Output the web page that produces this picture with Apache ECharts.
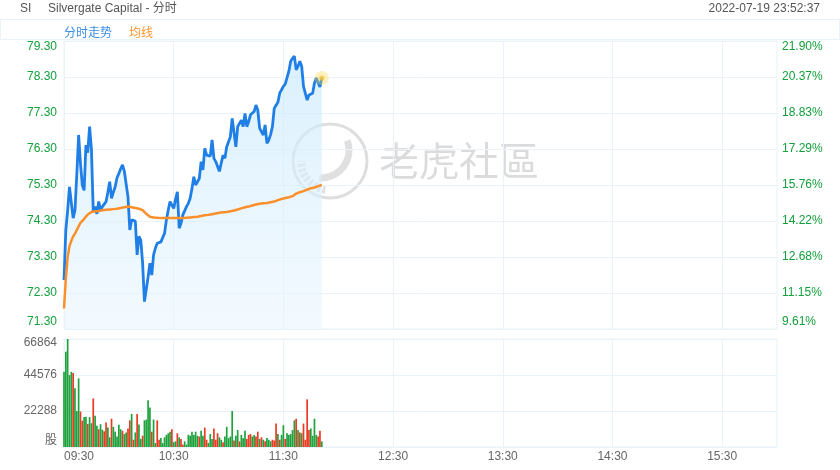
<!DOCTYPE html>
<html>
<head>
<meta charset="utf-8">
<style>
  html, body { margin: 0; padding: 0; background: #fff; }
  #chart { width: 840px; height: 470px; }
</style>
<script src="https://cdn.jsdelivr.net/npm/echarts@6/dist/echarts.min.js"></script>
</head>
<body>
<div id="chart"></div>
<script>
// 分时价格 (09:30 起每分钟)
var prices = [
  72.66, 74.05, 74.6, 75.25, 75.25, 74.38, 74.6, 75.6, 76.69, 75.9,
  75.3, 75.15, 76.41, 76.2, 76.92, 76.3, 74.56, 74.7, 74.5, 74.84,
  74.6, 74.7, 74.75, 74.84, 75.1, 75.39, 74.93, 75.1, 75.25, 75.5,
  75.62, 75.75, 75.86, 75.68, 75.7, 74.97, 74.05, 74.33, 74.28, 74.3,
  73.36, 73.87, 73.77, 73.13, 72.06, 72.06, 72.75, 73.13, 72.8, 73.36,
  73.55, 73.68, 73.73, 73.72, 73.77, 73.96, 74.33, 74.6, 74.84, 74.88,
  74.65, 74.9, 75.11, 74.1, 74.24, 74.47, 74.42, 74.7, 74.79, 74.93,
  75.2, 75.53, 75.3, 75.35, 75.48, 75.95, 75.72, 76.32, 76.13, 76.09,
  76.1, 76.55, 76.04, 75.95, 75.9, 75.68, 75.68, 76.13, 76.04, 76.36,
  76.5, 76.64, 77.15, 77.1, 76.36, 76.92, 76.97, 77.1, 76.92, 77.29,
  76.92, 77.06, 77.25, 77.29, 77.34, 77.52, 77.38, 76.88, 76.78, 76.69,
  76.97, 76.46, 76.55, 76.7, 76.92, 77.43, 77.38, 77.6, 77.85, 77.9,
  78.04, 78.1, 78.13, 78.46, 78.74, 78.82, 78.88, 78.5, 78.6, 78.74,
  78.6, 78.04, 78.08, 77.66, 77.8, 77.8, 77.85, 78.13, 78.27, 78.22,
  78.02, 78.27
];

// 均线
var avgPrices = [
  71.87, 72.7, 73.3, 73.6, 73.75, 73.87, 73.95, 74.0, 74.15, 74.25,
  74.3, 74.36, 74.42, 74.48, 74.53, 74.55, 74.56, 74.57, 74.58, 74.58,
  74.59, 74.6, 74.6, 74.61, 74.61, 74.62, 74.62, 74.63, 74.64, 74.64,
  74.65, 74.66, 74.67, 74.68, 74.69, 74.7, 74.69, 74.68, 74.67, 74.66,
  74.65, 74.64, 74.62, 74.6, 74.55, 74.5, 74.45, 74.42, 74.41, 74.4,
  74.39, 74.39, 74.38, 74.38, 74.38, 74.38, 74.38, 74.38, 74.38, 74.38,
  74.38, 74.38, 74.38, 74.38, 74.38, 74.38, 74.39, 74.39, 74.39, 74.4,
  74.4, 74.41, 74.41, 74.42, 74.43, 74.44, 74.45, 74.46, 74.47, 74.47,
  74.48, 74.49, 74.5, 74.51, 74.52, 74.53, 74.54, 74.54, 74.55, 74.55,
  74.56, 74.57, 74.58, 74.59, 74.6, 74.62, 74.64, 74.65, 74.66, 74.68,
  74.69, 74.7, 74.71, 74.73, 74.75, 74.76, 74.77, 74.78, 74.79, 74.79,
  74.8, 74.8, 74.81, 74.82, 74.83, 74.84, 74.86, 74.88, 74.9, 74.91,
  74.93, 74.94, 74.95, 74.96, 74.97, 74.99, 75.02, 75.06, 75.08, 75.1,
  75.12, 75.13, 75.15, 75.17, 75.2, 75.21, 75.22, 75.23, 75.25, 75.27,
  75.28, 75.3
];

// 成交量 (股)
var volumes = [
  46600, 59000, 66864, 44500, 46500, 45800, 36300, 22300, 42500, 22000,
  16300, 18500, 18800, 14300, 18500, 14700, 30100, 19300, 13100, 11000,
  14100, 10700, 9700, 15100, 12000, 6000, 17500, 12500, 9500, 6500,
  13800, 11000, 10000, 8000, 9000, 11500, 16500, 20500, 4500, 9000,
  20500, 14000, 5000, 7000, 16500, 17000, 29000, 24500, 9500, 17000,
  2500, 16500, 4500, 5500, 2500, 6000, 7500, 8500, 9500, 11000,
  3000, 3500, 8500, 6000, 5000, 1500, 3500, 1500, 7500, 7000,
  9500, 7500, 9500, 7000, 6500, 10000, 7000, 12000, 4500, 2500,
  8000, 5000, 11500, 4500, 8500, 6000, 4500, 3000, 6500, 12500,
  5500, 6500, 22300, 4000, 7000, 10500, 3500, 7500, 5500, 10000,
  5000, 7500, 8000, 6500, 7500, 6500, 9500, 5000, 6000, 4500,
  3500, 5500, 4500, 3500, 4500, 4000, 14500, 8000, 4500, 7500,
  13500, 5000, 8500, 7500, 8000, 10500, 16500, 17500, 10500, 9000,
  8500, 14500, 4500, 29500, 10500, 11500, 7000, 17500, 7500, 6500,
  10000, 3500
];
// 1 = 绿, 0 = 红
var volumeUp = [
  1, 1, 1, 1, 1, 0, 1, 1, 1, 0,
  0, 1, 1, 0, 1, 1, 0, 1, 1, 0,
  1, 1, 0, 0, 1, 1, 0, 1, 1, 1,
  1, 1, 0, 1, 1, 0, 0, 1, 0, 1,
  0, 1, 1, 0, 1, 1, 1, 1, 0, 1,
  1, 0, 0, 1, 1, 1, 1, 1, 1, 0,
  1, 1, 0, 1, 0, 0, 1, 1, 1, 1,
  1, 1, 1, 1, 0, 1, 1, 0, 0, 1,
  1, 1, 0, 0, 0, 1, 1, 0, 1, 1,
  1, 1, 1, 0, 1, 1, 0, 1, 1, 1,
  0, 0, 0, 1, 1, 0, 0, 1, 0, 1,
  0, 1, 1, 1, 0, 0, 0, 1, 0, 1,
  1, 0, 1, 1, 1, 1, 1, 0, 1, 0,
  1, 0, 0, 0, 0, 1, 1, 1, 1, 0,
  0, 1
];

var priceMin = 71.3;
var priceMax = 79.3;
var pctLabels = ["9.61%", "11.15%", "12.68%", "14.22%", "15.76%", "17.29%", "18.83%", "20.37%", "21.90%"];
var volTicks = [0, 22288, 44576, 66864];
var hourLabels = ["09:30", "10:30", "11:30", "12:30", "13:30", "14:30", "15:30"];

// 09:30 - 16:00 每分钟
var times = [];
for (var m = 9 * 60 + 30; m <= 16 * 60; m++) {
  var hh = Math.floor(m / 60), mm = m % 60;
  times.push((hh < 10 ? "0" : "") + hh + ":" + (mm < 10 ? "0" : "") + mm);
}

var GREEN = "#14a03c";
var RED = "#ea3a22";
var GRID_LINE = "#e9f3f9";
var FONT = '"Liberation Sans", Arial, "Noto Sans CJK SC", sans-serif';

var volData = volumes.map(function (v, i) {
  return {
    value: v,
    itemStyle: { color: volumeUp[i] ? "#1fa23e" : RED }
  };
});

var chart = echarts.init(document.getElementById("chart"));
var last = prices.length - 1;

var option = {
  animation: false,
  textStyle: { fontFamily: FONT },
  legend: {
    left: 54,
    top: 22,
    icon: "none",
    itemWidth: 0,
    itemGap: 12,
    selectedMode: false,
    data: [
      { name: "分时走势", textStyle: { color: "#3a8ee6", fontSize: 12 } },
      { name: "均线", textStyle: { color: "#fb9530", fontSize: 12 } }
    ]
  },
  graphic: [
    {
      type: "rect",
      shape: { x: 0.5, y: 19.5, width: 839, height: 20 },
      style: { fill: "none", stroke: GRID_LINE, lineWidth: 1 },
      z: 1
    },
    {
      type: "text",
      style: { x: 20, y: 9, text: "SI", fill: "#555", font: "12px " + FONT, verticalAlign: "middle" }
    },
    {
      type: "text",
      style: { x: 48, y: 9, text: "Silvergate Capital - 分时", fill: "#555", font: "12px " + FONT, verticalAlign: "middle" }
    },
    {
      type: "text",
      style: { x: 820, y: 9, text: "2022-07-19 23:52:37", fill: "#555", font: "12px " + FONT, align: "right", verticalAlign: "middle" }
    },
    // 水印
    {
      type: "group",
      z: 100,
      children: [
        {
          type: "circle",
          shape: { cx: 330, cy: 161, r: 37 },
          style: { fill: "none", stroke: "rgba(0,0,0,0.13)", lineWidth: 3 }
        },
        {
          type: "arc",
          shape: { cx: 330, cy: 161, r: 29, startAngle: Math.PI * 0.55, endAngle: Math.PI * 1.0 },
          style: { fill: "none", stroke: "rgba(0,0,0,0.12)", lineWidth: 8, lineDash: [3, 2] }
        },
        {
          type: "arc",
          shape: { cx: 321, cy: 150, r: 28, startAngle: -0.35, endAngle: Math.PI * 0.52 },
          style: { fill: "none", stroke: "rgba(0,0,0,0.12)", lineWidth: 7 }
        },
        {
          type: "text",
          style: {
            x: 379, y: 161, text: "老虎社區",
            fill: "rgba(0,0,0,0.14)",
            font: '40px "Noto Sans CJK TC", sans-serif',
            verticalAlign: "middle"
          }
        }
      ]
    }
  ],
  grid: [
    { left: 64, right: 63, top: 41, height: 288, show: true, borderColor: GRID_LINE, borderWidth: 1 },
    { left: 64, right: 63, top: 339, height: 108, show: true, borderColor: GRID_LINE, borderWidth: 1 }
  ],
  xAxis: [
    {
      type: "category",
      gridIndex: 0,
      data: times,
      boundaryGap: false,
      axisLine: { show: false },
      axisTick: { show: false },
      axisLabel: { show: false },
      splitLine: {
        show: true,
        interval: function (i) { return i % 60 === 0; },
        lineStyle: { color: GRID_LINE }
      }
    },
    {
      type: "category",
      gridIndex: 1,
      data: times,
      boundaryGap: false,
      axisLine: { show: false },
      axisTick: { show: false },
      axisLabel: {
        interval: function (i) { return i % 60 === 0; },
        color: "#666",
        fontSize: 12,
        margin: 4,
        formatter: function (v) {
          if (v === hourLabels[0]) return "{first|" + v + "}";
          return v;
        },
        rich: { first: { padding: [0, 0, 0, 30], color: "#666", fontSize: 12 } }
      },
      splitLine: {
        show: true,
        interval: function (i) { return i % 60 === 0; },
        lineStyle: { color: GRID_LINE }
      }
    }
  ],
  yAxis: [
    {
      type: "value",
      gridIndex: 0,
      min: priceMin,
      max: priceMax,
      interval: 1,
      axisLine: { show: false },
      axisTick: { show: false },
      splitLine: { lineStyle: { color: GRID_LINE } },
      axisLabel: {
        color: GREEN,
        fontSize: 12,
        margin: 7,
        formatter: function (v) {
          var s = v.toFixed(2);
          if (Math.abs(v - priceMax) < 1e-6) return "{top|" + s + "}";
          if (Math.abs(v - priceMin) < 1e-6) return "{bot|" + s + "}";
          return s;
        },
        rich: {
          top: { padding: [12, 0, 0, 0], color: GREEN, fontSize: 12 },
          bot: { padding: [0, 0, 14, 0], color: GREEN, fontSize: 12 }
        }
      }
    },
    {
      type: "value",
      gridIndex: 0,
      position: "right",
      min: priceMin,
      max: priceMax,
      interval: 1,
      axisLine: { show: false },
      axisTick: { show: false },
      splitLine: { show: false },
      axisLabel: {
        color: GREEN,
        fontSize: 12,
        margin: 5,
        formatter: function (v) {
          var k = Math.round(v - priceMin);
          var s = pctLabels[k];
          if (k === pctLabels.length - 1) return "{top|" + s + "}";
          if (k === 0) return "{bot|" + s + "}";
          return s;
        },
        rich: {
          top: { padding: [12, 0, 0, 0], color: GREEN, fontSize: 12 },
          bot: { padding: [0, 0, 14, 0], color: GREEN, fontSize: 12 }
        }
      }
    },
    {
      type: "value",
      gridIndex: 1,
      min: volTicks[0],
      max: volTicks[volTicks.length - 1],
      interval: volTicks[1],
      axisLine: { show: false },
      axisTick: { show: false },
      splitLine: { lineStyle: { color: GRID_LINE } },
      axisLabel: {
        color: "#666",
        fontSize: 12,
        margin: 7,
        formatter: function (v) {
          if (v === 0) return "{bot|股}";
          if (v === volTicks[volTicks.length - 1]) return "{top|" + v + "}";
          return String(v);
        },
        rich: {
          top: { padding: [7, 0, 0, 0], color: "#666", fontSize: 12 },
          bot: { padding: [0, 0, 12, 0], color: "#666", fontSize: 12 }
        }
      }
    }
  ],
  series: [
    {
      name: "分时走势",
      type: "line",
      xAxisIndex: 0,
      yAxisIndex: 0,
      data: prices,
      symbol: "none",
      lineStyle: { color: "#1f7fe6", width: 2.8 },
      itemStyle: { color: "#1f7fe6" },
      areaStyle: {
        color: new echarts.graphic.LinearGradient(0, 0, 0, 1, [
          { offset: 0, color: "rgba(200,233,252,0.95)" },
          { offset: 1, color: "rgba(232,245,255,0.75)" }
        ])
      },
      z: 3
    },
    {
      name: "均线",
      type: "line",
      xAxisIndex: 0,
      yAxisIndex: 0,
      data: avgPrices,
      symbol: "none",
      lineStyle: { color: "#fb8f2a", width: 2.5 },
      itemStyle: { color: "#fb8f2a" },
      z: 4
    },
    {
      type: "scatter",
      xAxisIndex: 0,
      yAxisIndex: 0,
      data: [[last, prices[last]]],
      symbolSize: 14,
      itemStyle: { color: "rgba(255,214,70,0.45)" },
      silent: true,
      z: 5
    },
    {
      type: "scatter",
      xAxisIndex: 0,
      yAxisIndex: 0,
      data: [[last, prices[last]]],
      symbolSize: 5,
      itemStyle: { color: "#f2c23a" },
      silent: true,
      z: 6
    },
    {
      type: "bar",
      xAxisIndex: 1,
      yAxisIndex: 2,
      data: volData,
      barWidth: 1.7
    }
  ]
};

chart.setOption(option);
</script>
</body>
</html>
